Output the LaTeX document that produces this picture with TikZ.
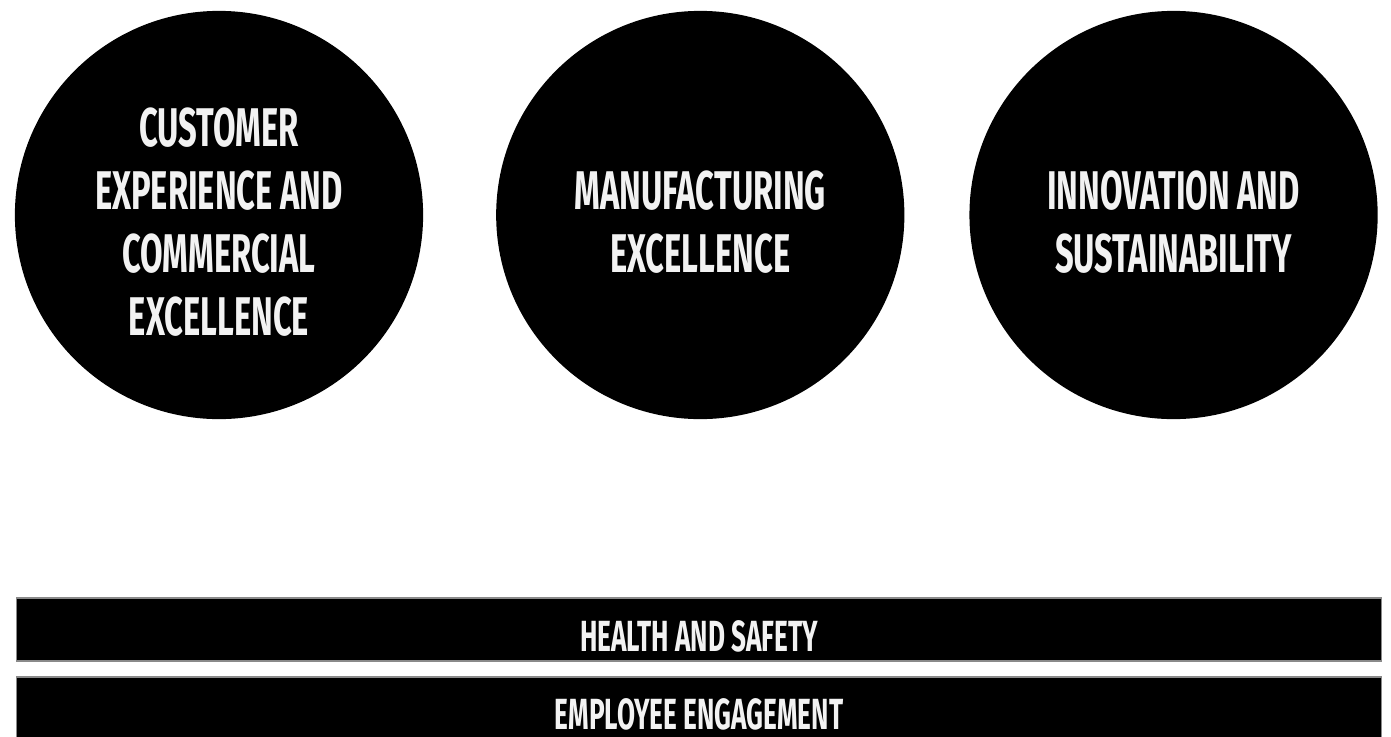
\documentclass[tikz,border=0pt]{standalone}
\usepackage{fontspec}
\newfontfamily\pillarfont[FakeStretch=0.6]{Fira Sans}
\usetikzlibrary{positioning}
\definecolor{paper}{HTML}{F2F2F2}
\definecolor{rim}{HTML}{8A8A8A}

\begin{document}
\begin{tikzpicture}[
  x=0.01cm, y=-0.01cm,
  pillar/.style={circle, fill=black, minimum size=4.08cm, inner sep=0pt},
  base/.style={rectangle, fill=black, draw=rim, line width=0.4pt, minimum width=13.64cm, minimum height=0.63cm, inner sep=0pt},
  pillartext/.style={text=paper, align=center, inner sep=0pt, font=\pillarfont\bfseries\fontsize{15.5}{17.9}\selectfont},
  basetext/.style={text=paper, inner sep=0pt, font=\pillarfont\bfseries\fontsize{12.4}{14}\selectfont},
  node distance=4.77cm
]
\useasboundingbox (0,0) rectangle (1391,736);

% three pillars
\node[pillar] (cust) at (219,215) {};
\node[pillar, right of=cust, node distance=4.81cm] (manu) {};
\node[pillar, right of=manu, node distance=4.73cm] (inno) {};

\node[pillartext, yshift=-0.07cm] (custtxt) at (cust) {CUSTOMER\\EXPERIENCE AND\\COMMERCIAL\\EXCELLENCE};
\node[pillartext, yshift=-0.07cm] (manutxt) at (manu) {MANUFACTURING\\EXCELLENCE};
\node[pillartext, yshift=-0.07cm] (innotxt) at (inno) {INNOVATION AND\\SUSTAINABILITY};

% foundations
\node[base] (safety) at (699,629.5) {};
\node[base, below of=safety, node distance=0.79cm] (people) {};

\node[basetext, yshift=-0.065cm] (safetytxt) at (safety) {HEALTH AND SAFETY};
\node[basetext, yshift=-0.06cm] (peopletxt) at (people) {EMPLOYEE ENGAGEMENT};
\end{tikzpicture}
\end{document}
